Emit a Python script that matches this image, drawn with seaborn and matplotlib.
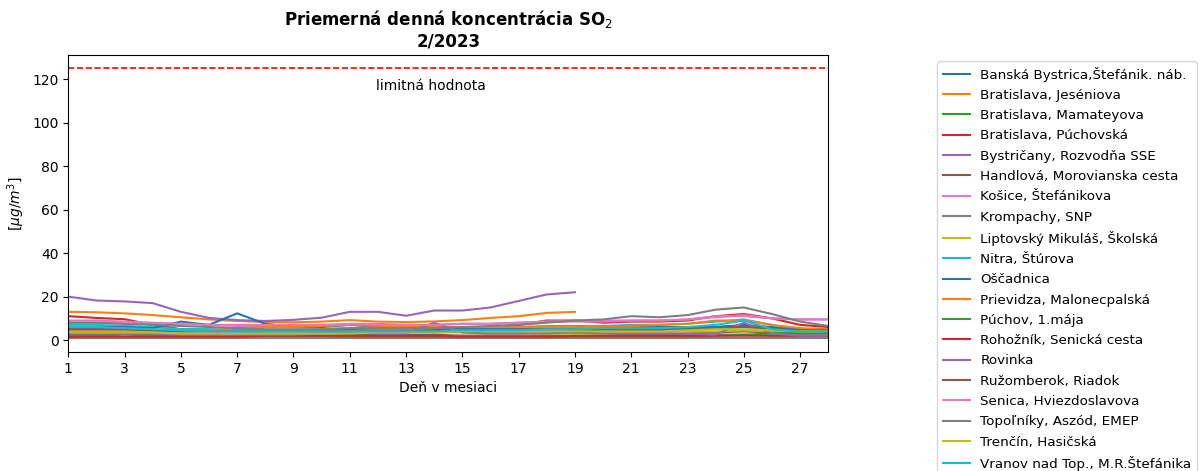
import numpy as np
import pandas as pd
import matplotlib
matplotlib.use("Agg")
import matplotlib.pyplot as plt
import seaborn as sns

days = list(range(1, 29))
nan = np.nan

stations = [
    "Banská Bystrica,Štefánik. náb.",
    "Bratislava, Jeséniova",
    "Bratislava, Mamateyova",
    "Bratislava, Púchovská",
    "Bystričany, Rozvodňa SSE",
    "Handlová, Morovianska cesta",
    "Košice, Štefánikova",
    "Krompachy, SNP",
    "Liptovský Mikuláš, Školská",
    "Nitra, Štúrova",
    "Oščadnica",
    "Prievidza, Malonecpalská",
    "Púchov, 1.mája",
    "Rohožník, Senická cesta",
    "Rovinka",
    "Ružomberok, Riadok",
    "Senica, Hviezdoslavova",
    "Topoľníky, Aszód, EMEP",
    "Trenčín, Hasičská",
    "Vranov nad Top., M.R.Štefánika",
]

banska_bystrica = [5, 5, 5, 4.5, 4, 4, 4, 3.5, 3.5, 4, 4, 4.5, 4, 4, 5, 5, 5, 5.5, 5, 5, 6, 6, 6, 6, 7, 6, 5, 5]
bratislava_jeseniova = [13, 12.8, 12.3, 11.5, 10.5, 9.5, 8.8, 8.3, 8.2, 8.5, 9.2, 8.5, 8.3, 8.6, 9.2, 10.2, 11, 12.5, 13,
                        nan, nan, nan, nan, nan, nan, nan, nan, nan]
bratislava_mamateyova = [2, 2, 2.5, 2, 2, 1.5, 1.5, 1.5, 1.5, 1, 1, 1, 1.5, 1.5, 1.5, 1.5, 1.5, 1.5, 1.5, 1.5, 2, 2, 2, 2.5, 2.5, 2, 2, 2]
bratislava_puchovska = [11, 10.2, 9.6, 7, 5, 4.8, 4.5, 4.5, 4, 4.5, 5, 5, 4.5, 5, 5.5, 6, 7, 9, 9, 8, 8.5, 8.5, 9, 11, 12, 10, 7, 6]
bystricany = [20, 18.2, 17.8, 17, 13, 10.2, 9.2, 8.8, 9.3, 10.3, 13, 13, 11.2, 13.6, 13.6, 15, 18, 21, 22,
              nan, nan, nan, nan, nan, nan, nan, nan, nan]
handlova = [3, 3, 3, 3, 2.5, 2.5, 2.5, 2, 2, 2, 2.5, 2.5, 2.5, 2.5, 2, 2, 2, 2, 2, 2, 2.5, 2.5, 3, 3.5, 4, 3.5, 3, 3]
kosice = [8, 8, 7.5, 7.5, 7.5, 7, 6.5, 6.5, 6.5, 7, 7, 7, 7, 7, 7.5, 7.5, 8, 8.5, 9, 9, 9, 9, 9.5, 11, 11, 10, 9.5, 9.5]
krompachy = [1, 1, 1, 1, 1, 1, 1, 1, 1, 1, 1, 1, 1, 1, 1, 1, 1, 1, 1, 1, 1, 1, 1, 1, 1, 1, 1, 1]
liptovsky = [4, 4, 4, 3.5, 3, 3, 3, 3.5, 3.5, 3.5, 3.5, 3.5, 3.5, 3.5, 3.5, 3, 3, 3, 3, 3, 3.5, 3.5, 4, 4, 4.5, 4, 4, 4]
nitra = [7, 7, 6.5, 6, 5, 5, 4.5, 4.5, 4.5, 5, 5.5, 5, 5, 5.5, 6, 6, 6, 6.5, 6.5, 6.5, 7, 7, 7.5, 8.5, 9.5, 7, 4, 4]
oscadnica = [6, 6, 6, 5.5, 8.5, 7, 12.3, 7.5, 6, 6, 7, 6, 5.5, 6.5, 5.5, 5, 5, 5, 5, 4.5, 5, 5, 5.5, 6, 6.5, 5.5, 5, 4.5]
prievidza = [4, 4, 4, 4, 4, 4.5, 5.5, 6, 6, 6.5, 7, 6.5, 6, 6, 6, 6, 6, 6, 6, 6, 6.5, 7, 7.5, 9, 9, 7, 5.5, 5]
puchov = [2.5, 2.5, 3, 3, 2.5, 2.5, 2, 2, 2, 2, 1.5, 1.5, 1.5, 1.5, 2, 2, 2, 1.5, 1.5, 1.5, 1.5, 1.5, 1.5, 2, 2.5, 3, 3.5, 3.5]
rohoznik = [1.5, 1.5, 1.5, 1.5, 1.5, 1.5, 1.5, 2, 2, 2, 2, 2, 2, 2, 1.5, 1.5, 1.5, 1.5, 2, 2, 2, 2, 2, 2, 2, 2, 2, 2]
rovinka = [3, 3, 3, 3, 2.5, 2.5, 2.5, 2.5, 2.5, 3, 3.5, 3, 3, 8, 3.5, 3, 3, 3, 3.5, 3, 3, 3, 3, 2.5, 8, 3, 2, 2]
ruzomberok = [5, 5, 5, 4.5, 4, 4, 4, 4, 4, 4, 4, 4, 4, 4, 4, 4, 4, 4, 4, 4, 4.5, 4.5, 5, 5.5, 6, 5, 4.5, 4.5]
senica = [9, 9, 8.5, 8, 7.5, 7, 7, 7, 7, 7, 7.5, 7.5, 7, 7, 7.5, 7.5, 8, 8.5, 8.5, 8.5, 9, 9, 9.5, 10.5, 11.5, 10, 9.5, 9.5]
topolniky = [8, 8, 7.5, 7, 6.5, 6, 5.5, 5, 5, 5, 5.5, 5.5, 5.5, 5.5, 6, 6.5, 7, 8, 9, 9.5, 11, 10.5, 11.5, 14, 15, 12, 8.5, 6.5]
trencin = [3.5, 3.5, 3.5, 3.5, 3, 3, 3, 3, 3, 3, 3, 3.5, 3.5, 3.5, 4, 4, 4, 4, 4, 4, 4, 4, 4.5, 5, 5, 4.5, 4, 4]
vranov = [6, 6, 5.5, 5, 4.5, 4, 4, 4, 4, 4, 4, 4, 4, 4, 4.5, 4.5, 4.5, 5, 5, 5.5, 5.5, 5.5, 6, 7, 9, 5, 4, 4]

series = [banska_bystrica, bratislava_jeseniova, bratislava_mamateyova, bratislava_puchovska,
          bystricany, handlova, kosice, krompachy, liptovsky, nitra, oscadnica, prievidza,
          puchov, rohoznik, rovinka, ruzomberok, senica, topolniky, trencin, vranov]

limit_value = 125
limit_label = "limitná hodnota"
x_ticks = list(range(1, 28, 2))

rows = []
for name, vals in zip(stations, series):
    for d, v in zip(days, vals):
        rows.append({"station": name, "day": d, "value": v})
df = pd.DataFrame(rows)

fig = plt.figure(figsize=(12, 4.71), dpi=100)
ax = fig.add_axes([0.0569, 0.253, 0.6333, 0.631])

palette = sns.color_palette("tab10", 10) * 2
sns.lineplot(data=df, x="day", y="value", hue="station", hue_order=stations,
             palette=palette, linewidth=1.5, ax=ax, legend=False,
             estimator=None, sort=False)

ax.axhline(limit_value, color="red", linestyle="--", linewidth=1.2)
ax.text(13.9, 117, limit_label, ha="center", va="center", fontsize=10)

ax.set_xlim(1, 28)
ax.set_ylim(-5.4, 131.3)
ax.set_xticks(x_ticks)
ax.set_xticklabels([str(t) for t in x_ticks])
ax.set_yticks([0, 20, 40, 60, 80, 100, 120])
ax.set_xlabel("Deň v mesiaci", fontsize=10)
ax.set_ylabel(r"[$\mu g/m^3$]", fontsize=10)
ax.set_title("Priemerná denná koncentrácia SO$_2$\n2/2023", fontsize=12, fontweight="bold")

handles = [plt.Line2D([0], [0], color=palette[i], linewidth=1.5) for i in range(len(stations))]
fig.legend(handles, stations, loc="upper left", bbox_to_anchor=(0.781, 0.870),
           bbox_transform=fig.transFigure, borderaxespad=0, fontsize=9.7,
           labelspacing=0.54, frameon=True)

fig.savefig("out.png", dpi=100)
